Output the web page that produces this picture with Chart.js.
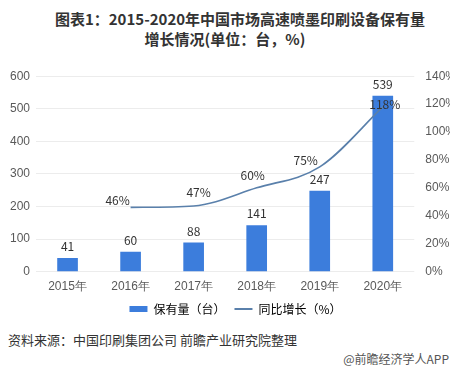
<!DOCTYPE html>
<html>
<head>
<meta charset="utf-8">
<script src="https://cdn.jsdelivr.net/npm/chart.js@4"></script>
<style>
  body { margin: 0; background: #fff; font-family: "Noto Sans CJK SC", sans-serif; }
  #wrap { position: relative; width: 450px; height: 371px; overflow: hidden; }
  .tl { position: absolute; transform: translateX(-50%); white-space: nowrap;
        font-weight: bold; font-size: 15px; line-height: 20px; color: #333; }
  #box { position: absolute; left: 0; top: 58px; width: 471px; height: 267px; }
  #source { position: absolute; left: 8px; top: 330px; font-size: 13px; color: #333; }
  #mark { position: absolute; right: 1px; top: 350px; font-size: 12px; color: #555; }
</style>
</head>
<body>
<div id="wrap">
  <div class="tl" style="top:9px; left:240px">图表1：2015-2020年中国市场高速喷墨印刷设备保有量</div>
  <div class="tl" style="top:29px; left:225px">增长情况(单位：台，%)</div>
  <div id="box"><canvas id="chart"></canvas></div>
  <div id="source">资料来源：中国印刷集团公司 前瞻产业研究院整理</div>
  <div id="mark">@前瞻经济学人APP</div>
</div>
<script>
let years = ["2015年", "2016年", "2017年", "2018年", "2019年", "2020年"];
let stock = [41, 60, 88, 141, 247, 539];
let growth = [null, 46, 47, 60, 75, 118];

let barColor = "#3c7ddc";
let lineColor = "#5a80ab";

// value labels over bars and near line points
let valueLabels = {
    id: "valueLabels",
    afterDatasetsDraw(chart) {
        let ctx = chart.ctx;
        ctx.save();
        ctx.font = "12px 'Noto Sans CJK SC', sans-serif";
        ctx.fillStyle = "#333";
        ctx.textAlign = "center";
        ctx.textBaseline = "middle";
        chart.getDatasetMeta(1).data.forEach((el, i) => {
            ctx.fillText(stock[i], el.x, el.y - 12);
        });
        // label nudges, as in the original picture
        let nudge = [[0, 0], [-13, -7], [5, -14], [-4, -12], [-14, -6], [2, -2]];
        chart.getDatasetMeta(0).data.forEach((el, i) => {
            if (growth[i] == null) return;
            ctx.fillText(growth[i] + "%", el.x + nudge[i][0], el.y + nudge[i][1]);
        });
        ctx.restore();
    }
};

window.onload = function() {
    let ctx = document.getElementById("chart").getContext("2d");
    new Chart(ctx, {
        data: {
            labels: years,
            datasets: [{
                type: "line",
                label: "同比增长（%）",
                data: growth,
                yAxisID: "y1",
                borderColor: lineColor,
                backgroundColor: lineColor,
                borderWidth: 1.6,
                pointRadius: 0,
                cubicInterpolationMode: "monotone",
                spanGaps: true,
                order: 0
            }, {
                type: "bar",
                label: "保有量（台）",
                data: stock,
                yAxisID: "y",
                backgroundColor: barColor,
                barThickness: 20,
                order: 1
            }]
        },
        plugins: [valueLabels],
        options: {
            responsive: true,
            maintainAspectRatio: false,
            animation: false,
            layout: { padding: { left: 4, right: 4, top: 6, bottom: 0 } },
            plugins: {
                tooltip: { enabled: false },
                legend: {
                    position: "bottom",
                    reverse: true,
                    labels: {
                        color: "#555",
                        font: { size: 12, family: "'Noto Sans CJK SC', sans-serif" },
                        usePointStyle: true,
                        pointStyleWidth: 18,
                        boxHeight: 6,
                        padding: 9,
                        generateLabels(chart) {
                            return chart.data.datasets.map((ds, i) => ({
                                text: ds.label,
                                pointStyle: ds.type == "bar" ? "rect" : "line",
                                fillStyle: ds.type == "bar" ? barColor : lineColor,
                                strokeStyle: ds.type == "bar" ? barColor : lineColor,
                                lineWidth: ds.type == "bar" ? 0 : 2,
                                datasetIndex: i
                            }));
                        }
                    }
                }
            },
            scales: {
                x: {
                    grid: { display: false },
                    border: { display: false },
                    ticks: { color: "#595959", font: { size: 12 }, padding: 0 }
                },
                y: {
                    position: "left",
                    min: 0, max: 600,
                    ticks: { stepSize: 100, color: "#595959", font: { size: 12 }, padding: 6 },
                    grid: { color: "#ececec", drawTicks: false },
                    border: { display: false }
                },
                y1: {
                    position: "right",
                    min: 0, max: 140,
                    ticks: { stepSize: 20, color: "#595959", font: { size: 12 }, padding: 11,
                             callback: v => v + "%" },
                    grid: { display: false, drawTicks: false },
                    border: { display: false }
                }
            }
        }
    });
};
</script>
</body>
</html>
